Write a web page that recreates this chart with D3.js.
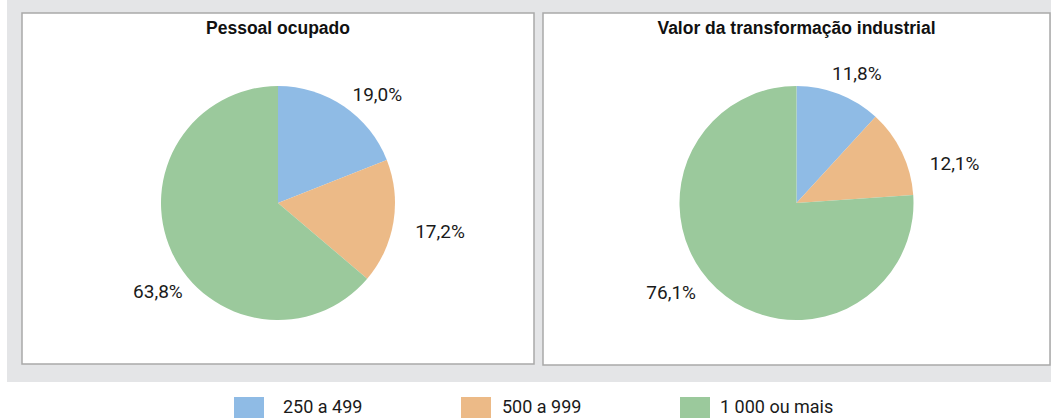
<!DOCTYPE html>
<html>
<head>
<meta charset="utf-8">
<script src="https://cdn.jsdelivr.net/npm/d3@7"></script>
<style>
  html, body { margin: 0; padding: 0; background: #ffffff; }
  svg { display: block; }
</style>
</head>
<body>
<svg id="chart" width="1051" height="418"></svg>
<script>
// ---- Data ----
const categories = ["250 a 499", "500 a 999", "1 000 ou mais"];
const panelTitles = ["Pessoal ocupado", "Valor da transformação industrial"];
const pessoalOcupado = [19.0, 17.2, 63.8];
const valorTransformacao = [11.8, 12.1, 76.1];
const seriesValues = [pessoalOcupado, valorTransformacao];
const colors = ["#8fbbe5", "#ecba87", "#9bc99c"];

// ---- Layout (not data) ----
const labelNudges = [
  [[15, 15], [14, 4], [16, 25]],
  [[6, 10], [23, 25], [-23, -20]]
];
const legendX = [234, 461, 680];
const legendTextOffset = [49, 41, 40];

const svg = d3.select("#chart");
const W = 1051, H = 418;

svg.append("rect").attr("x", 7).attr("y", 0).attr("width", W - 7).attr("height", 382)
  .attr("fill", "#e4e5e7");

const panels = [
  { x: 22, y: 13, w: 512, h: 351 },
  { x: 543, y: 13, w: 507, h: 352 }
];

const radius = 117;
const labelRadius = 150;
const fmt = v => d3.format(".1f")(v).replace(".", ",") + "%";

const pie = d3.pie().sort(null).value(d => d);
const arc = d3.arc().innerRadius(0).outerRadius(radius);
const labelArc = d3.arc().innerRadius(labelRadius).outerRadius(labelRadius);

panels.forEach((p, i) => {
  const g = svg.append("g");
  g.append("rect").attr("x", p.x).attr("y", p.y).attr("width", p.w).attr("height", p.h)
    .attr("fill", "#ffffff").attr("stroke", "#a9a9a9").attr("stroke-width", 1.5);

  const cx = p.x + p.w / 2;
  g.append("text").attr("x", cx).attr("y", 34)
    .attr("text-anchor", "middle")
    .attr("font-family", "'Liberation Sans', Arial, sans-serif")
    .attr("font-weight", "bold").attr("font-size", "17.5px").attr("fill", "#111")
    .text(panelTitles[i]);

  const pg = g.append("g").attr("transform", `translate(${cx},203)`);
  const arcs = pie(seriesValues[i]);
  pg.selectAll("path").data(arcs).join("path")
    .attr("d", arc).attr("fill", (d, j) => colors[j]);

  pg.selectAll("text").data(arcs).join("text")
    .attr("transform", (d, j) => {
      const c = labelArc.centroid(d);
      return `translate(${c[0] + labelNudges[i][j][0]},${c[1] + labelNudges[i][j][1]})`;
    })
    .attr("text-anchor", "middle").attr("dy", "0.35em")
    .attr("font-family", "Roboto, sans-serif").attr("font-size", "19px").attr("fill", "#1a1a1a")
    .text(d => fmt(d.data));
});

// ---- Legend ----
const legend = svg.append("g");
categories.forEach((c, i) => {
  legend.append("rect").attr("x", legendX[i]).attr("y", 397).attr("width", 30).attr("height", 30)
    .attr("fill", colors[i]);
  legend.append("text").attr("x", legendX[i] + legendTextOffset[i]).attr("y", 413)
    .attr("font-family", "Roboto, sans-serif").attr("font-size", "18px").attr("fill", "#1a1a1a")
    .text(c);
});
</script>
</body>
</html>
